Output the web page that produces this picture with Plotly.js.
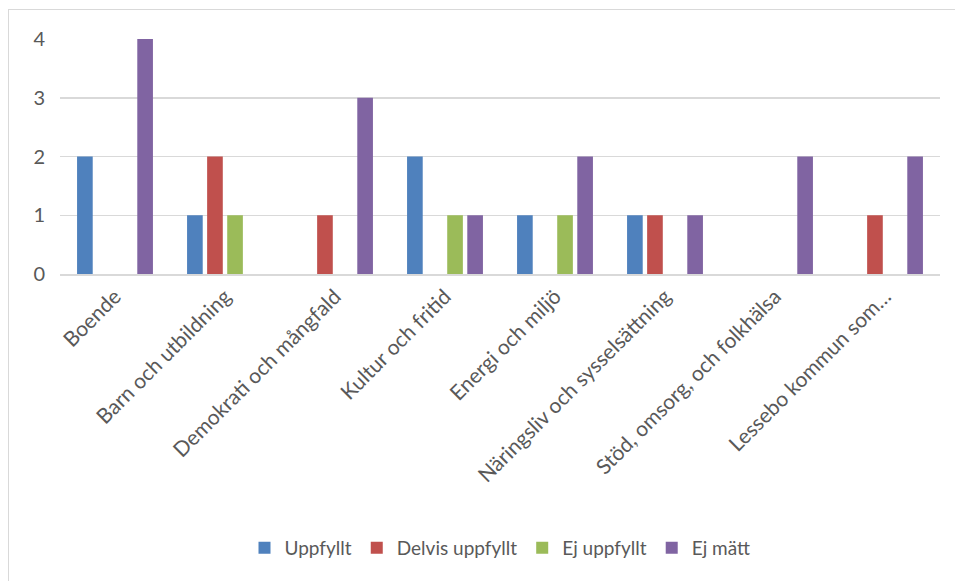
<!DOCTYPE html>
<html>
<head>
<meta charset="utf-8">
<script src="https://cdn.plot.ly/plotly-3.0.1.min.js"></script>
<style>
html,body{margin:0;padding:0;background:#fff;overflow:hidden;}
#frame{position:absolute;left:8px;top:9px;width:1000px;height:1000px;border:1.5px solid #d9d9d9;box-sizing:border-box;}
#chart{position:absolute;left:0;top:0;width:955px;height:581px;}
</style>
</head>
<body>
<div id="frame"></div>
<div id="chart"></div>
<script>
const categories = ["Boende","Barn och utbildning","Demokrati och mångfald","Kultur och fritid","Energi och miljö","Näringsliv och sysselsättning","Stöd, omsorg, och folkhälsa","Lessebo kommun som…"];
const seriesNames = ["Uppfyllt","Delvis uppfyllt","Ej uppfyllt","Ej mätt"];
const uppfyllt       = [2,1,0,2,1,1,0,0];
const delvisUppfyllt = [0,2,1,0,0,1,0,1];
const ejUppfyllt     = [0,1,0,1,1,0,0,0];
const ejMatt         = [4,0,3,1,2,1,2,2];
const yTicks = [0,1,2,3,4];

const colors = ["#4F81BD","#C0504D","#9BBB59","#8064A2"];
const values = [uppfyllt, delvisUppfyllt, ejUppfyllt, ejMatt];

const data = values.map((v,i)=>({
  type:'bar', name:seriesNames[i], x:categories, y:v,
  marker:{color:colors[i]}, hoverinfo:'x+y+name'
}));

const layout = {
  width:955, height:581,
  paper_bgcolor:'rgba(0,0,0,0)', plot_bgcolor:'rgba(0,0,0,0)',
  margin:{l:60,r:15,t:39,b:307},
  barmode:'group', bargap:0.27, bargroupgap:0.22,
  font:{family:'Lato, "Open Sans", sans-serif', color:'#595959', size:16},
  xaxis:{tickangle:-45, showgrid:false, showline:true, linecolor:'#d9d9d9', linewidth:2,
         ticks:'', tickfont:{size:21,color:'#595959'}, fixedrange:true, automargin:false},
  yaxis:{range:[0,4], tickvals:yTicks, showgrid:true, gridcolor:'#d9d9d9', gridwidth:1.5,
         zeroline:false, showline:false, ticks:'', ticklabelstandoff:14,
         tickfont:{size:20,color:'#595959'}, fixedrange:true},
  legend:{orientation:'h', x:0.5, xanchor:'center', y:-1.166, yanchor:'middle',
          font:{size:19,color:'#595959'}, itemwidth:30, traceorder:'normal'},
  showlegend:true
};
Plotly.newPlot('chart', data, layout, {displayModeBar:false, staticPlot:true});
</script>
</body>
</html>
